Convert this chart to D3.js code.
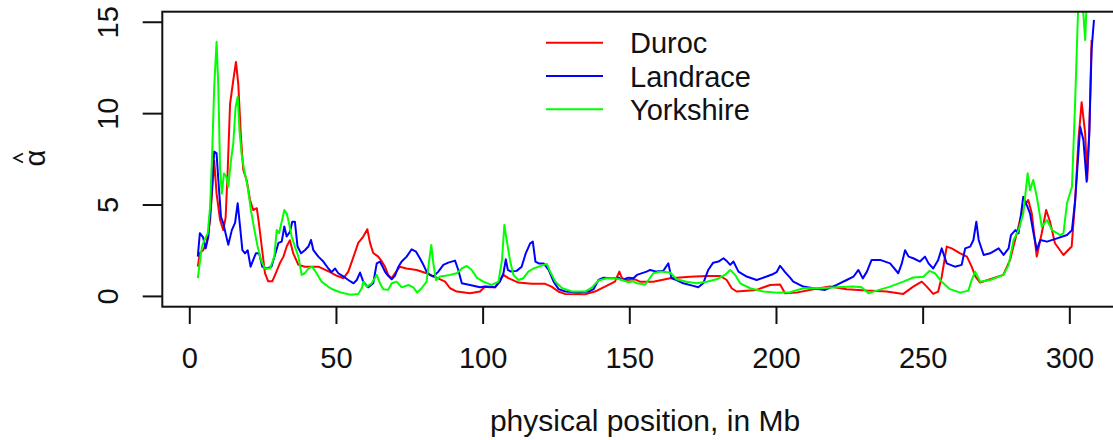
<!DOCTYPE html>
<html>
<head>
<meta charset="utf-8">
<script src="https://cdn.jsdelivr.net/npm/d3@7"></script>
<style>
  html, body { margin: 0; padding: 0; background: #fff; }
  svg { display: block; font-family: "Liberation Sans", Arial, sans-serif; }
</style>
</head>
<body>
<svg id="chart" width="1113" height="440"></svg>
<script>
// Estimated admixture-like parameter (alpha-hat) along the chromosome, three breeds.
const seriesNames = ["Duroc", "Landrace", "Yorkshire"];
const seriesColors = ["#FF0000", "#0000FF", "#00FF00"];

const xTicks = [0, 50, 100, 150, 200, 250, 300];
const yTicks = [0, 5, 10, 15];

const durocPos = [2.9,3.6,4.7,5.9,7.1,8.5,9.3,10.5,11.6,12.4,13.1,13.9,15.0,15.9,16.7,17.6,18.4,19.6,20.7,21.8,23.0,23.6,24.7,25.8,26.9,28.3,29.5,30.9,32.1,33.2,34.3,35.5,37.2,39.4,44,48.0,50.3,52.6,54.2,56,57.6,59.3,60.7,61.6,62.7,64.4,65.6,66.7,67.8,69,70.1,71.8,74,77.5,80.9,84.3,87.2,88.9,91.2,95.7,99.1,100.8,102.5,104.2,105.9,107.1,108.8,112.2,116.7,121.3,123.5,125.8,128,134.9,138.3,141.7,145.1,146.6,147.5,149.1,151.9,153.6,158.2,163.9,170.7,176.4,181,183.2,184.9,186.6,193.4,198,201.4,203.1,207,212.7,218.4,224.1,230.9,237.7,243.4,246.8,249.7,251.4,253.6,255.3,256.5,258.2,259.9,262.8,265.1,266.7,268,269.6,273,277.5,279.8,282.1,284.3,286.0,287.2,288.9,290.6,292.1,293.4,295.1,298,300.8,302,303.1,304.2,305.4,306.1,306.8,307.6];
const durocAlpha = [1.6,2.35,2.5,2.9,4.15,7.4,5.6,4.15,3.6,4.3,6.9,10.5,11.8,12.8,11.6,8.7,6.9,6.3,5.25,4.7,4.8,4.15,2.7,1.25,0.8,0.8,1.25,1.8,2.15,2.7,3.05,2.3,1.7,1.6,1.6,1.3,1.1,0.97,1.33,2.15,2.9,3.25,3.65,2.9,2.35,2.15,1.9,1.6,1.15,0.97,1.24,1.6,1.5,1.42,1.24,1.0,0.78,0.42,0.24,0.15,0.24,0.5,0.47,0.47,0.87,1.15,0.97,0.73,0.66,0.66,0.51,0.24,0.11,0.09,0.24,0.51,0.78,1.33,0.97,0.87,0.91,0.78,0.78,0.97,1.05,1.09,1.09,0.87,0.42,0.24,0.33,0.6,0.63,0.15,0.18,0.37,0.51,0.37,0.29,0.24,0.11,0.51,0.78,0.51,0.11,0.24,1.05,2.7,2.6,2.33,2.15,1.6,1.05,0.73,0.91,1.15,1.97,3.43,4.88,5.25,4.52,2.15,3.43,4.7,4.07,2.88,2.24,2.7,5.25,8.53,10.6,8.9,6.35,8.9,14];

const landracePos = [2.9,3.6,4.7,5.6,6.5,7.6,8.5,9.3,9.9,10.8,11.6,12.4,13.3,14.5,15.6,16.5,17.3,18.1,19.0,19.9,20.9,21.8,22.7,23.8,24.9,26.4,28,29.2,30.4,31.5,32.4,33.2,34.3,35.1,36.0,36.9,38.1,39.4,40.6,41.5,42.3,44,45.7,47.4,48.5,49.7,50.8,52.6,54.2,56,57.1,58.2,59.3,61,62.7,63.9,65,65.9,66.7,67.8,69,70.1,71.3,72.4,74.1,75.8,77.3,78.6,79.8,80.9,82,83.2,84.9,86.6,88.3,90.6,91.7,92.9,95.7,99.1,100.8,102.5,104.2,105.9,107.1,107.9,108.6,109.7,111.6,113.3,114.7,116.2,117.1,118,119.1,120.8,122.5,124.2,125.9,128.2,132.7,136.1,137.8,139.5,141.2,144.1,146.4,147.5,149.7,151.4,152.6,155.9,157.1,159.3,161.6,163.3,164.4,166.1,168.4,171.8,173.5,175.2,176.9,178.6,180.4,182.1,183.4,184.4,185.5,187.2,190,193.4,196.8,199.1,200.2,201.4,203.1,204.8,205.9,209.3,212.7,216.7,220.7,224.1,226.4,228.1,229.6,231,232.6,235.5,238.9,241.7,242.9,244,245.2,246.8,249.1,250.8,252,253.6,255.3,256.5,258.2,261,263.3,264.5,266.2,267.3,268.3,269.1,270.8,273,275.9,277.6,279.3,280.1,281.6,282.7,284.3,285.7,286.6,287.8,288.9,290.1,292.4,295.8,299.2,300.9,302,303.7,304.8,305.9,306.8,307.6,308.4];
const landraceAlpha = [2.15,3.43,3.2,2.6,3.25,5.6,7.9,7.8,6.35,4.33,3.97,3.4,2.8,3.6,4.0,5.07,3.8,2.5,2.33,2.5,1.6,1.97,2.33,2.33,1.6,1.5,1.6,2.24,2.9,2.97,3.8,3.25,3.5,4.06,4.06,2.7,2.33,2.5,2.7,3.06,2.5,2.15,1.88,1.5,1.3,1.5,1.24,1.06,0.87,0.69,0.87,1.28,0.78,0.47,0.69,1.78,1.88,1.6,1.33,1.1,0.91,1.1,1.6,1.88,2.15,2.55,2.42,2.06,1.7,1.33,1.15,1.06,1.33,1.7,1.82,1.93,1.42,0.69,0.6,0.47,0.51,0.5,0.47,0.78,1.24,2.0,1.42,1.33,1.37,1.6,2.33,2.88,2.97,1.88,1.78,1.78,1.42,0.78,0.37,0.24,0.18,0.24,0.37,0.87,1.0,0.97,1.0,0.87,1.0,0.97,1.15,1.33,1.42,1.33,1.38,1.78,0.97,0.87,0.69,0.55,0.47,0.69,1.42,1.82,1.88,2.06,1.88,1.7,1.88,1.33,1.06,0.87,1.06,1.2,1.3,1.65,1.3,1.0,0.78,0.51,0.42,0.33,0.6,0.87,1.05,1.42,0.96,1.33,1.97,1.97,1.78,1.24,1.78,2.5,2.15,2.06,1.88,2.15,1.78,1.5,1.97,2.6,1.78,1.6,1.7,2.6,2.7,3.06,4.06,3.06,2.24,2.33,2.6,2.24,2.6,3.33,3.6,3.43,5.43,4.88,4.52,3.43,2.52,3.06,2.97,3.15,3.33,3.6,5.25,9.25,8.53,6.25,8.9,13.5,15.1];

const yorkshirePos = [2.9,4.3,5.2,6.3,7.1,7.8,8.5,9.3,9.9,10.5,11.1,11.8,12.7,13.3,14.2,15,15.8,16.5,17.1,17.8,18.7,19.9,21,22.2,23.3,24.4,25.8,27.5,29,29.8,30.6,31.5,32.4,33.2,34,34.9,36,37.2,38.3,39.4,40.6,41.9,43.4,45.1,47.4,49,51.4,54.8,57.6,58.8,59.3,60.5,62.2,63.9,65,66.1,67.8,69,70.7,72.4,74.7,76.4,77.7,79.2,80.9,81.8,82.5,83.2,84.1,85.5,87.2,88.9,91.2,92.9,94.6,96.3,98,100.2,101.5,103.1,105.4,106.6,107.4,108.2,109.3,110.5,112.2,113.9,115.6,117.3,119.1,120.8,121.9,123,124.8,127.1,130.5,135,137.3,139.5,142.4,145.2,147.5,149.7,151.4,152.6,155.4,158.2,160.5,163.9,166.1,169.5,173,176.4,179.8,182.6,184.4,186.1,187.8,191.2,195.7,200.2,204.8,209.3,215,220.7,226.4,229.2,231.5,234.3,238.9,243.4,246.8,250.3,252.3,254.2,256.5,259.3,262.8,265.6,266.7,267.9,269.6,273,277.6,279.3,281,282.7,284.3,285.8,286.6,287.7,288.9,290.6,292.4,294.1,296.9,298,299.2,300.9,302,303.1,304.2,305.4,306.1];
const yorkshireAlpha = [0.97,2.7,3.06,3.43,4.88,7.8,11.45,13.9,11.45,6.9,5.6,6.7,6.5,5.97,7.4,8.35,10.35,10.9,9.1,7.8,6.9,5.97,4.7,3.6,2.7,1.97,1.5,1.5,2.15,3.6,3.43,4.06,4.7,4.52,3.97,3.25,2.7,2.15,1.15,1.24,1.5,1.6,1.24,0.78,0.5,0.35,0.2,0.07,0.1,0.42,0.78,0.51,0.69,1.15,0.69,0.37,0.33,0.69,0.78,0.47,0.6,0.47,0.18,0.42,0.78,1.97,2.79,1.78,0.87,1.06,1.1,1.15,1.24,1.5,1.64,1.42,1.0,0.78,0.7,0.6,0.78,1.97,3.88,3.06,1.97,1.15,0.87,0.97,1.33,1.5,1.6,1.7,1.75,1.33,0.78,0.42,0.24,0.24,0.47,0.84,0.97,0.97,0.87,0.75,0.8,0.69,0.62,1.24,1.33,1.28,0.91,0.78,0.69,0.78,0.91,1.15,1.42,1.15,0.69,0.42,0.24,0.18,0.2,0.42,0.42,0.47,0.51,0.47,0.15,0.29,0.51,0.78,1.01,1.05,1.37,1.24,0.78,0.37,0.18,0.29,0.87,1.33,0.78,0.87,1.15,1.7,3.06,3.6,4.52,6.71,5.79,6.34,5.43,3.79,4.15,3.6,3.33,3.43,5.07,5.97,10.7,16.2,16.8,14,16.8];

const seriesPos = [durocPos, landracePos, yorkshirePos];
const seriesAlpha = [durocAlpha, landraceAlpha, yorkshireAlpha];

// Plot region (box) and axis limits
const box = { left: 162.3, top: 11.7, right: 1127.7, bottom: 306.7 };
const xLim = [-9.2, 319.9];
const yLim = [-0.59, 15.55];

const svg = d3.select("#chart");
const x = d3.scaleLinear().domain(xLim).range([box.left, box.right]);
const y = d3.scaleLinear().domain(yLim).range([box.bottom, box.top]);

const ink = "#111";
const fontPx = 29;

svg.append("defs").append("clipPath").attr("id", "plotClip")
  .append("rect")
  .attr("x", box.left).attr("y", box.top)
  .attr("width", box.right - box.left).attr("height", box.bottom - box.top);

// Series lines
const line = d3.line().x(d => x(d[0])).y(d => y(d[1]));
const lines = svg.append("g").attr("clip-path", "url(#plotClip)");
seriesNames.forEach((name, i) => {
  const pts = seriesPos[i].map((p, k) => [p, seriesAlpha[i][k]]);
  lines.append("path")
    .datum(pts)
    .attr("d", line)
    .attr("fill", "none")
    .attr("stroke", seriesColors[i])
    .attr("stroke-width", 2)
    .attr("stroke-linejoin", "round");
});

// Plot box
svg.append("rect")
  .attr("x", box.left).attr("y", box.top)
  .attr("width", box.right - box.left).attr("height", box.bottom - box.top)
  .attr("fill", "none").attr("stroke", ink).attr("stroke-width", 2);

// X axis
const xAxis = svg.append("g")
  .attr("transform", `translate(0,${box.bottom})`)
  .call(d3.axisBottom(x).tickValues(xTicks).tickSize(17.3).tickFormat(d3.format("d")));
xAxis.select(".domain").remove();
xAxis.selectAll(".tick line").attr("stroke", ink).attr("stroke-width", 2);
xAxis.selectAll(".tick text")
  .attr("y", 61.3).attr("dy", 0)
  .attr("fill", ink)
  .style("font-size", fontPx + "px")
  .style("font-family", "'Liberation Sans', Arial, sans-serif");

// Y axis with labels rotated parallel to the axis
const yAxis = svg.append("g")
  .attr("transform", `translate(${box.left},0)`)
  .call(d3.axisLeft(y).tickValues(yTicks).tickSize(19.6).tickFormat(d3.format("d")));
yAxis.select(".domain").remove();
yAxis.selectAll(".tick line").attr("stroke", ink).attr("stroke-width", 2);
yAxis.selectAll(".tick text")
  .attr("x", 0).attr("y", -44.3).attr("dy", 0)
  .attr("transform", "rotate(-90)")
  .attr("text-anchor", "middle")
  .attr("fill", ink)
  .style("font-size", fontPx + "px")
  .style("font-family", "'Liberation Sans', Arial, sans-serif");

// Axis titles
svg.append("text")
  .attr("x", 645).attr("y", 431)
  .attr("text-anchor", "middle")
  .attr("fill", ink)
  .style("font-size", "30px")
  .text("physical position, in Mb");

const yTitle = svg.append("g").attr("transform", "translate(45,158) rotate(-90)");
yTitle.append("text")
  .attr("x", 0).attr("y", 0)
  .attr("text-anchor", "middle")
  .attr("fill", ink)
  .style("font-size", "29px")
  .text("α");
yTitle.append("path")
  .attr("d", "M-4.5,-22 L0,-31 L4.5,-22")
  .attr("fill", "none")
  .attr("stroke", ink)
  .attr("stroke-width", 1.6);

// Legend (no frame)
const legend = svg.append("g");
const legendRowY = d3.scaleLinear().domain([0, 1]).range([42.7, 76]);
seriesNames.forEach((name, i) => {
  const ly = legendRowY(i);
  legend.append("line")
    .attr("x1", 546).attr("x2", 603)
    .attr("y1", ly).attr("y2", ly)
    .attr("stroke", seriesColors[i]).attr("stroke-width", 2);
  legend.append("text")
    .attr("x", 630).attr("y", ly + 10.5)
    .attr("fill", ink)
    .style("font-size", fontPx + "px")
    .text(name);
});
</script>
</body>
</html>
